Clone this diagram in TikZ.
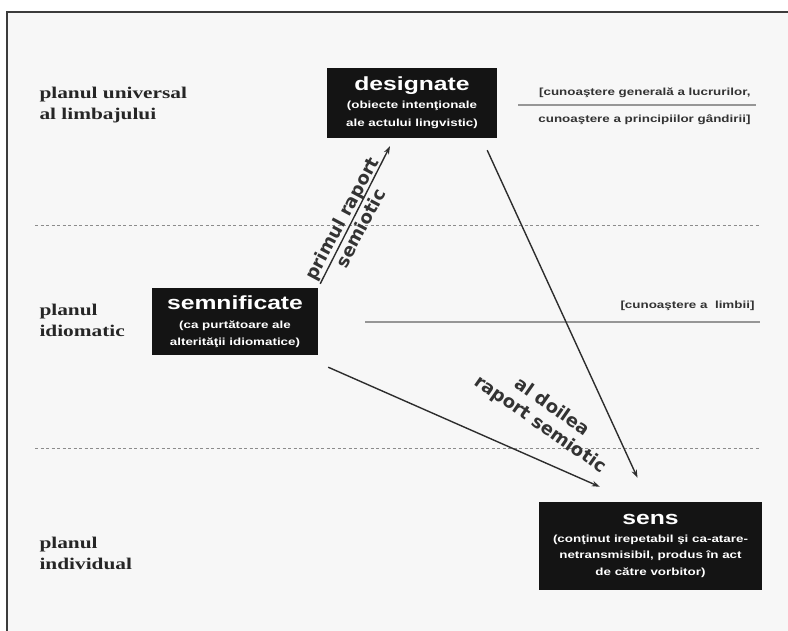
\documentclass[tikz,border=0pt]{standalone}
\usepackage{fontspec}
\setmainfont{Liberation Serif}
\newfontfamily\bsans[FakeStretch=1.3]{Liberation Sans}
\newfontfamily\lserif[FakeStretch=1.3]{Liberation Serif}
\newfontfamily\rsans{DejaVu Sans}
\usetikzlibrary{arrows.meta,calc}
\definecolor{bgc}{RGB}{247,247,247}
\definecolor{framec}{RGB}{60,60,60}
\definecolor{arrc}{RGB}{45,45,45}
\definecolor{linec}{RGB}{150,150,150}
\definecolor{dashc}{RGB}{140,140,140}
\newcommand\boxttl{\bsans\bfseries\fontsize{19}{22}\selectfont}
\begin{document}
\begin{tikzpicture}[x=1pt,y=-1pt,
  blackbox/.style={fill=black!92,text=white,inner sep=0pt,align=center},
  planlbl/.style={anchor=west,align=left,font=\lserif\bfseries\fontsize{16.4}{21}\selectfont,text=black!85},
  brack/.style={anchor=east,font=\bsans\bfseries\fontsize{10.3}{13}\selectfont,text=black!80},
  arr/.style={draw=arrc,line width=1.4pt,-{Stealth[length=8pt,width=5.5pt]}},
  rotlbl/.style={font=\rsans\bfseries\fontsize{18}{21}\selectfont,text=black!80,align=center,inner sep=0pt},
  graysep/.style={draw=linec,line width=2pt},
  dashsep/.style={draw=dashc,line width=1pt,dash pattern=on 3pt off 2.5pt}]
\useasboundingbox (0,0) rectangle (788,631);
\fill[white] (0,0) rectangle (788,631);
\fill[bgc] (7,12) rectangle (788,631);
\draw[framec,line width=1.5pt] (7,631) -- (7,12) -- (788,12);

% level separators
\draw[dashsep] (35,226) -- (760,226);
\draw[dashsep] (35,448) -- (760,448);

% plane labels
\node[planlbl] (pu) at (36,105) {planul universal\\al limbajului};
\node[planlbl] (pi) at (36,320) {planul\\idiomatic};
\node[planlbl] (pv) at (36,553) {planul\\individual};

% boxes
\node[blackbox,minimum width=170,minimum height=70,
  font=\bsans\bfseries\fontsize{10.3}{18}\selectfont] (desig) at (412,103)
  {{\boxttl designate}\\[0pt](obiecte intenţionale\\ale actului lingvistic)};
\node[blackbox,minimum width=166,minimum height=67,
  font=\bsans\bfseries\fontsize{10.3}{17}\selectfont] (semn) at (235,321.5)
  {{\boxttl semnificate}\\[2pt](ca purtătoare ale\\alterităţii idiomatice)};
\node[blackbox,minimum width=223,minimum height=88,
  font=\bsans\bfseries\fontsize{10.3}{16.5}\selectfont] (sens) at (650.5,546)
  {{\boxttl sens}\\[1pt](conţinut irepetabil şi ca-atare-\\netransmisibil, produs în act\\de către vorbitor)};

% bracket notes
\node[brack] (b1) at (754,93) {[cunoaştere generală a lucrurilor,};
\node[brack] (b2) at (754,120) {cunoaştere a principiilor gândirii]};
\draw[graysep] (518,105) -- (756,105);
\node[brack] (b3) at (758,306) {[cunoaştere a \ limbii]};
\draw[graysep] (365,322) -- (760,322);

% arrows
\coordinate (a1s) at ($(semn.north east)+(2,-4)$);
\coordinate (a1e) at ($(desig.south)+(-22,8)$);
\draw[arr] (a1s) -- (a1e);
\coordinate (a2s) at ($(semn.south east)+(10,12)$);
\coordinate (a2e) at ($(sens.north west)+(61,-15)$);
\draw[arr] (a2s) -- (a2e);
\coordinate (a3s) at ($(desig.south east)+(-10,12)$);
\coordinate (a3e) at ($(sens.north)+(-13,-24)$);
\draw[arr] (a3s) -- (a3e);

% arrow labels
\node[rotlbl,rotate=62] (l1) at ($(a1s)!0.44!(a1e)$) {primul raport\\semiotic};
\node[rotlbl,rotate=-35] (l2) at (546,416) {al doilea\\raport semiotic};
\end{tikzpicture}
\end{document}
